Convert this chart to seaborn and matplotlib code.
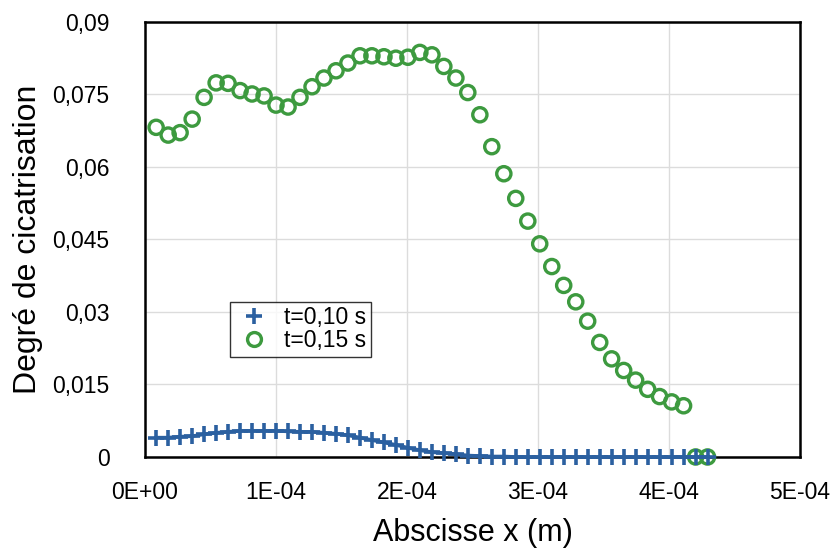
import matplotlib; matplotlib.use('Agg')
import numpy as np
import pandas as pd
import seaborn as sns
import matplotlib.pyplot as plt
from matplotlib.lines import Line2D

# abscissa of the mesh nodes (units of 1E-04 m)
x_nodes = [0.085, 0.177, 0.268, 0.360, 0.451, 0.543, 0.634, 0.726, 0.817, 0.909,
           1.000, 1.092, 1.183, 1.275, 1.366, 1.458, 1.549, 1.641, 1.732, 1.824,
           1.915, 2.007, 2.098, 2.190, 2.281, 2.373, 2.464, 2.556, 2.647, 2.739,
           2.830, 2.922, 3.013, 3.105, 3.196, 3.288, 3.379, 3.471, 3.562, 3.654,
           3.745, 3.837, 3.928, 4.020, 4.111, 4.203, 4.294]

# degree of healing at t=0,10 s
deg_t010 = [0.0040, 0.0040, 0.0042, 0.0043, 0.0047, 0.0050, 0.0052, 0.0054, 0.0054, 0.0054,
            0.0054, 0.0053, 0.0052, 0.0052, 0.0050, 0.0048, 0.0045, 0.0040, 0.0035, 0.0030,
            0.0025, 0.0019, 0.0014, 0.0010, 0.0008, 0.0006, 0.0003, 0.0002, 0.0001, 0.0001,
            0.0, 0.0, 0.0, 0.0, 0.0, 0.0, 0.0, 0.0, 0.0, 0.0,
            0.0, 0.0, 0.0, 0.0, 0.0, 0.0, 0.0]

# degree of healing at t=0,15 s
deg_t015 = [0.0682, 0.0666, 0.0671, 0.0699, 0.0744, 0.0774, 0.0773, 0.0758, 0.0751, 0.0747,
            0.0728, 0.0724, 0.0744, 0.0766, 0.0784, 0.0799, 0.0815, 0.0830, 0.0830, 0.0828,
            0.0825, 0.0827, 0.0837, 0.0832, 0.0808, 0.0784, 0.0754, 0.0708, 0.0642, 0.0586,
            0.0535, 0.0488, 0.0441, 0.0394, 0.0355, 0.0321, 0.0281, 0.0237, 0.0203, 0.0179,
            0.0159, 0.0140, 0.0125, 0.0114, 0.0106, 0.0, 0.0]

x_ticks = [0, 1e-4, 2e-4, 3e-4, 4e-4, 5e-4]
x_tick_labels = ['0E+00', '1E-04', '2E-04', '3E-04', '4E-04', '5E-04']
y_ticks = [0, 0.015, 0.03, 0.045, 0.06, 0.075, 0.09]
y_tick_labels = ['0', '0,015', '0,03', '0,045', '0,06', '0,075', '0,09']
labels = ['t=0,10 s', 't=0,15 s']

blue = '#2b60a0'
green = '#3d9a3f'

sns.set_style('white')
plt.rcParams['font.family'] = ['Liberation Sans', 'DejaVu Sans']
plt.rcParams['text.color'] = 'black'
plt.rcParams['axes.labelcolor'] = 'black'

df = pd.DataFrame({'x': np.array(x_nodes) * 1e-4, 't010': deg_t010, 't015': deg_t015})

fig = plt.figure(figsize=(8.30, 5.49), dpi=100)
ax = fig.add_axes([0.1747, 0.1676, 0.7892, 0.7924])

sns.scatterplot(data=df, x='x', y='t015', ax=ax, marker='o', s=105,
                facecolors='none', edgecolor=green, linewidth=2.4,
                clip_on=False, zorder=3, legend=False)
sns.lineplot(data=df, x='x', y='t010', ax=ax, color=blue, linewidth=2.6,
             marker='+', markersize=12, markeredgewidth=2.6, markeredgecolor=blue,
             clip_on=False, zorder=4, legend=False)

ax.set_xlim(0, 5e-4)
ax.set_ylim(0, 0.09)
ax.set_xticks(x_ticks)
ax.set_xticklabels(x_tick_labels)
ax.set_yticks(y_ticks)
ax.set_yticklabels(y_tick_labels)
ax.grid(True, color='#dcdcdc', linewidth=1.0)
ax.set_axisbelow(True)

for s in ax.spines.values():
    s.set_visible(True)
    s.set_color('black')
    s.set_linewidth(1.8)

ax.tick_params(axis='both', which='major', direction='out', length=4.5, width=1.6,
               color='black', labelsize=16.5, labelcolor='black')
ax.tick_params(axis='y', pad=21)
ax.tick_params(axis='x', pad=13)

ax.set_xlabel('Abscisse x (m)', fontsize=22)
ax.set_ylabel('Degré de cicatrisation', fontsize=23)
ax.xaxis.set_label_coords(0.5, -0.14)
ax.yaxis.set_label_coords(-0.155, 0.5)

handles = [
    Line2D([], [], color=blue, linestyle='none', marker='+', markersize=12, markeredgewidth=2.6),
    Line2D([], [], color=green, linestyle='none', marker='o', markersize=10,
           markerfacecolor='none', markeredgewidth=2.4),
]
leg = ax.legend(handles, labels, loc='upper left', bbox_to_anchor=(0.13, 0.357),
                borderaxespad=0, fontsize=16.5, frameon=True, fancybox=False,
                edgecolor='black', handlelength=1.7, handletextpad=0.45,
                labelspacing=0.0, borderpad=0.2)
leg.get_frame().set_linewidth(1.0)

fig.savefig('out.png', dpi=100)
